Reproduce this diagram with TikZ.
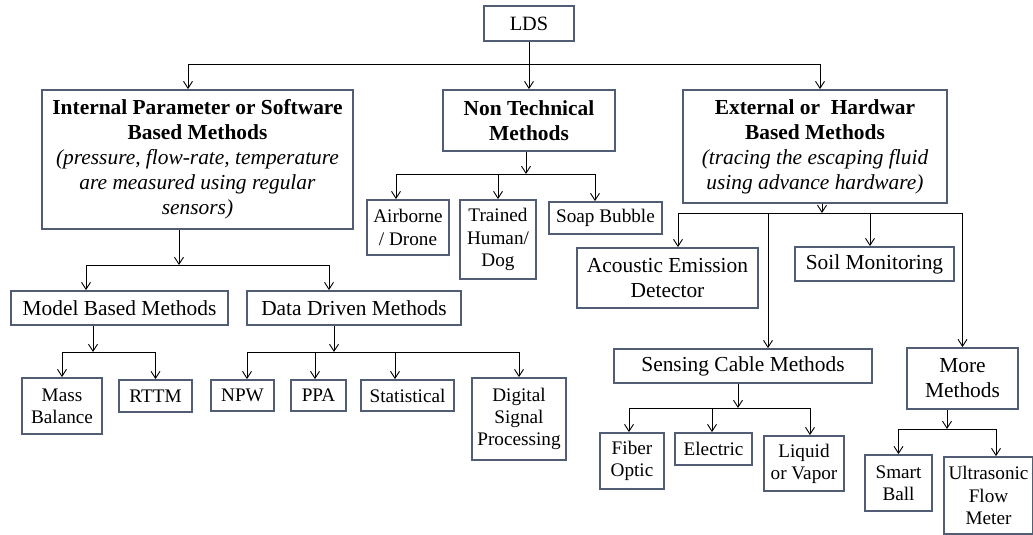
\documentclass[tikz,border=0pt]{standalone}
\usepackage{xcolor}
\usepackage{fontspec}
\setmainfont{Liberation Serif}
\usepackage{tikz}
\usetikzlibrary{arrows.meta}
\definecolor{boxc}{RGB}{80,93,117}

\begin{document}
\begin{tikzpicture}[x=1pt,y=-1pt,
    box/.style 2 args={draw=boxc,line width=1.8pt,minimum width=#1pt,minimum height=#2pt,inner sep=1pt,align=center},
    big/.style={font=\fontsize{21.4}{25}\selectfont},
    small/.style={font=\fontsize{19.2}{22.2}\selectfont},
    arr/.style={-{Straight Barb[length=7pt,width=9pt]},line width=0.9pt}]
\useasboundingbox (0,0) rectangle (1033,535);

\node[box={90}{35},font=\fontsize{20.3}{23}\selectfont] (lds) at (529,23.5) {LDS};
\node[box={311}{139},big] (internal) at (197.5,159.5) {\textbf{Internal Parameter or Software}\\\textbf{Based Methods}\\\textit{(pressure, flow-rate, temperature}\\\textit{are measured using regular}\\\textit{sensors)}};
\node[box={172}{61},big] (nontech) at (529,120.5) {\textbf{Non Technical}\\\textbf{Methods}};
\node[box={264}{113},big] (external) at (815,146.5) {\textbf{External or~ Hardwar}\\\textbf{Based Methods}\\\textit{(tracing the escaping fluid}\\\textit{using advance hardware)}};

\node[box={217}{34},big] (model) at (119.5,308) {Model Based Methods};
\node[box={214}{34},big] (data) at (354,308) {Data Driven Methods};
\node[box={80}{56},small] (mass) at (62,406) {Mass\\Balance};
\node[box={73}{32},small] (rttm) at (155.5,396) {RTTM};
\node[box={63}{31},small] (npw) at (242.5,395.5) {NPW};
\node[box={55}{31},small] (ppa) at (318.5,395.5) {PPA};
\node[box={93}{31},small] (stat) at (407.5,395.5) {Statistical};
\node[box={94}{82},small] (dsp) at (519,419) {Digital\\Signal\\Processing};

\node[box={82}{55},small] (air) at (408,227.5) {Airborne\\/ Drone};
\node[box={76}{79},small] (trained) at (498,239.5) {Trained\\Human/\\Dog};
\node[box={113}{32},small] (soap) at (605.5,218) {Soap Bubble};

\node[box={181}{60},big] (acoustic) at (667.5,278) {Acoustic Emission\\Detector};
\node[box={159}{34},big] (soil) at (874.5,264) {Soil Monitoring};
\node[box={258}{34},big] (sensing) at (743,366) {Sensing Cable Methods};
\node[box={111}{61},big] (more) at (962.5,378.5) {More\\Methods};
\node[box={64}{56},small] (fiber) at (632,461) {Fiber\\Optic};
\node[box={77}{32},small] (electric) at (713.5,449) {Electric};
\node[box={80}{55},small] (liquid) at (804,463.5) {Liquid\\or Vapor};
\node[box={67}{56},small] (smart) at (898.5,483) {Smart\\Ball};
\node[box={89}{77},small] (ultra) at (988.5,495.5) {Ultrasonic\\Flow\\Meter};

\coordinate (j0) at (529,64);
\coordinate (j1) at (179,265);
\coordinate (j2) at (93,352);
\coordinate (j3) at (334,352);
\coordinate (j4) at (526,174);
\coordinate (j5) at (822,213);
\coordinate (j6) at (738,408);
\coordinate (j7) at (947,429);

\draw[line width=0.9pt] (lds.south) -- (j0);
\draw[arr] (j0) -- (nontech.north);
\draw[arr] (j0) -| ([xshift=-9.5]internal.north);
\draw[arr] (j0) -| ([xshift=5]external.north);

\draw[arr] ([xshift=-18.5]internal.south) -- (j1);
\draw[arr] (j1) -| ([xshift=-33.5]model.north);
\draw[arr] (j1) -| ([xshift=-25]data.north);
\draw[arr] ([xshift=-26.5]model.south) -- (j2);
\draw[arr] (j2) -| (mass.north);
\draw[arr] (j2) -| (rttm.north);
\draw[arr] ([xshift=-20]data.south) -- (j3);
\draw[arr] (j3) -| ([xshift=4.5]npw.north);
\draw[arr] (j3) -| ([xshift=-3.5]ppa.north);
\draw[arr] (j3) -| ([xshift=-12.5]stat.north);
\draw[arr] (j3) -| (dsp.north);

\draw[arr] ([xshift=-3]nontech.south) -- (j4);
\draw[arr] (j4) -| ([xshift=-12]air.north);
\draw[arr] (j4) -| (trained.north);
\draw[arr] (j4) -| ([xshift=-10.5]soap.north);

\draw[arr] ([xshift=7]external.south) -- (j5);
\draw[arr] (j5) -| ([xshift=10.5]acoustic.north);
\draw[arr] (j5) -| ([xshift=-4.5]soil.north);
\draw[arr] (j5) -| ([xshift=25]sensing.north);
\draw[arr] (j5) -| (more.north);

\draw[arr] ([xshift=-5]sensing.south) -- (j6);
\draw[arr] (j6) -| ([xshift=-3]fiber.north);
\draw[arr] (j6) -| ([xshift=-1.5]electric.north);
\draw[arr] (j6) -| ([xshift=6]liquid.north);

\draw[arr] ([xshift=-15.5]more.south) -- (j7);
\draw[arr] (j7) -| (smart.north);
\draw[arr] (j7) -| ([xshift=7.5]ultra.north);
\end{tikzpicture}
\end{document}
